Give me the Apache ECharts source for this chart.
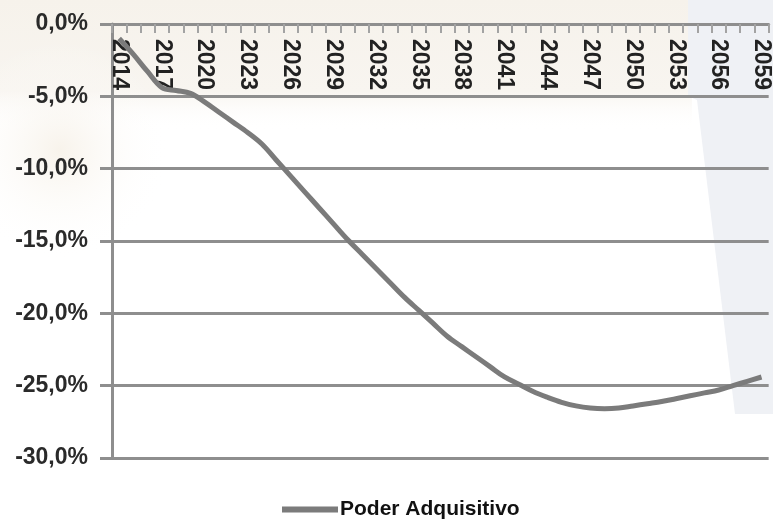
<!DOCTYPE html>
<html>
<head>
<meta charset="utf-8">
<script src="https://cdn.jsdelivr.net/npm/echarts@6/dist/echarts.min.js"></script>
<style>
  html, body { margin: 0; padding: 0; background: #ffffff; }
  #chart { width: 773px; height: 524px; }
</style>
</head>
<body>
<div id="chart"></div>
<script>
// Years shown on the category axis
const years = [
  '2014','2015','2016','2017','2018','2019','2020','2021','2022','2023',
  '2024','2025','2026','2027','2028','2029','2030','2031','2032','2033',
  '2034','2035','2036','2037','2038','2039','2040','2041','2042','2043',
  '2044','2045','2046','2047','2048','2049','2050','2051','2052','2053',
  '2054','2055','2056','2057','2058','2059'
];

// Cumulative change in purchasing power (%)
const poderAdquisitivo = [
  -1.0, -2.1, -3.3, -4.4, -4.6, -4.8, -5.4, -6.1, -6.8, -7.5,
  -8.3, -9.4, -10.5, -11.6, -12.7, -13.8, -14.9, -15.9, -16.9, -17.9,
  -18.9, -19.8, -20.7, -21.6, -22.3, -23.0, -23.7, -24.4, -24.9, -25.4,
  -25.8, -26.15, -26.4, -26.55, -26.6, -26.55, -26.4, -26.25, -26.1, -25.9,
  -25.7, -25.5, -25.3, -25.0, -24.7, -24.4
];

// Value-axis tick labels, from 0 down to -30
const yTickLabels = ['0,0%', '-5,0%', '-10,0%', '-15,0%', '-20,0%', '-25,0%', '-30,0%'];

const seriesName = 'Poder Adquisitivo';

const gridGray = '#8e8e8e';
const labelFont = '"Liberation Sans", Arial, sans-serif';

const chart = echarts.init(document.getElementById('chart'), null, { renderer: 'canvas' });

chart.setOption({
  backgroundColor: '#ffffff',
  animation: false,
  graphic: [
    {
      // warm wash across the top band
      type: 'rect',
      z: -10,
      silent: true,
      shape: { x: 0, y: 0, width: 692, height: 130 },
      style: {
        fill: new echarts.graphic.LinearGradient(0, 0, 0, 1, [
          { offset: 0, color: '#f6f2eb' },
          { offset: 0.7, color: '#f8f5f0' },
          { offset: 1, color: 'rgba(255,255,255,0)' }
        ])
      }
    },
    {
      // soft warm glow at the left
      type: 'circle',
      z: -10,
      silent: true,
      shape: { cx: 60, cy: 150, r: 110 },
      style: {
        fill: new echarts.graphic.RadialGradient(0.5, 0.5, 0.5, [
          { offset: 0, color: 'rgba(246,240,230,0.8)' },
          { offset: 1, color: 'rgba(255,255,255,0)' }
        ])
      }
    },
    {
      // cool panel down the right side
      type: 'polygon',
      z: -9,
      silent: true,
      shape: {
        points: [[688, 0], [773, 0], [773, 414], [735, 414], [697, 100], [688, 96]]
      },
      style: { fill: '#eff1f5' }
    }
  ],
  grid: {
    left: 112,
    right: 2,
    top: 24,
    bottom: 66,
    containLabel: false
  },
  legend: {
    data: [seriesName],
    left: 277,
    top: 494,
    icon: 'rect',
    itemWidth: 56,
    itemHeight: 6,
    itemGap: 3,
    textStyle: {
      fontFamily: labelFont,
      fontSize: 21,
      fontWeight: 'bold',
      color: '#111111',
      padding: [0, 0, 0, -3]
    }
  },
  xAxis: {
    type: 'category',
    position: 'top',
    data: years,
    boundaryGap: true,
    axisLine: { show: true, onZero: false, lineStyle: { color: gridGray, width: 3 } },
    axisTick: {
      show: true,
      inside: true,
      length: 9,
      interval: 0,
      lineStyle: { color: '#a3a3a3', width: 2 }
    },
    axisLabel: {
      inside: true,
      rotate: 90,
      interval: 2,
      margin: 15,
      fontFamily: labelFont,
      fontSize: 23,
      fontWeight: 'bold',
      color: '#222222'
    },
    splitLine: { show: false }
  },
  yAxis: {
    type: 'value',
    min: -30,
    max: 0,
    interval: 5,
    axisLine: { show: true, lineStyle: { color: gridGray, width: 3 } },
    axisTick: { show: true, length: 12, lineStyle: { color: gridGray, width: 3 } },
    axisLabel: {
      margin: 24,
      fontFamily: labelFont,
      fontSize: 23,
      fontWeight: 'bold',
      color: '#2a2a2a',
      formatter: function (value) {
        return yTickLabels[Math.round(-value / 5)];
      }
    },
    splitLine: { show: true, lineStyle: { color: gridGray, width: 3 } }
  },
  series: [
    {
      name: seriesName,
      type: 'line',
      data: poderAdquisitivo,
      smooth: 0.35,
      showSymbol: false,
      color: '#7b7b7b',
      lineStyle: { color: '#7b7b7b', width: 5 },
      z: 5
    }
  ]
});
</script>
</body>
</html>
